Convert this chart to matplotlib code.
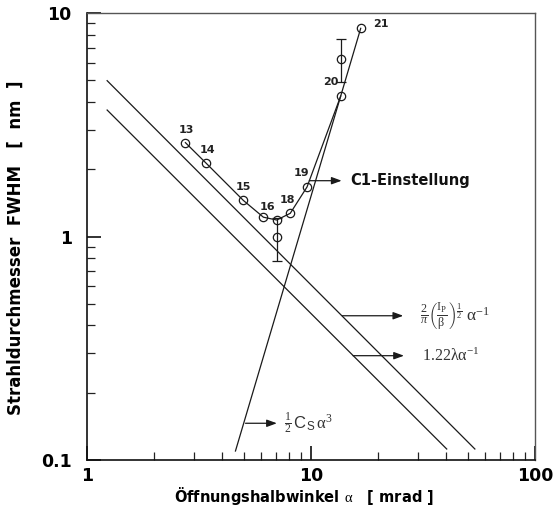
import matplotlib
matplotlib.use("Agg")
import matplotlib.pyplot as plt
from matplotlib.ticker import LogLocator, NullFormatter, FixedLocator, FixedFormatter

plt.rcParams["font.family"] = ["DejaVu Sans"]
plt.rcParams["mathtext.fontset"] = "custom"
plt.rcParams["mathtext.rm"] = "Liberation Serif"
plt.rcParams["mathtext.it"] = "Liberation Serif:italic"
plt.rcParams["mathtext.bf"] = "Liberation Serif:bold"
plt.rcParams["mathtext.sf"] = "Liberation Sans"

# Measured beam diameters along the aperture series (labels 13..21)
point_ids = ["13", "14", "15", "16", "", "18", "19", "20", "21"]
alpha_meas = [2.75, 3.40, 4.99, 6.13, 7.03, 8.08, 9.60, 13.57, 16.67]
fwhm_meas = [2.63, 2.13, 1.45, 1.22, 1.185, 1.27, 1.666, 4.25, 8.54]

# Repeated measurements with scatter
alpha_err = [7.03, 13.57]
fwhm_err = [0.992, 6.24]
fwhm_err_low = [0.779, 4.90]
fwhm_err_high = [1.21, 7.67]

# Theoretical contributions (end points of straight lines in log-log)
alpha_beam = [1.23, 53.9]
d_beam = [4.98, 0.112]
alpha_diff = [1.23, 40.35]
d_diff = [3.68, 0.112]
alpha_cs = [4.60, 13.57]
d_cs = [0.1097, 4.25]

fig = plt.figure(figsize=(5.56, 5.08), dpi=100)
ax = fig.add_axes([87 / 556, 1 - 460 / 508, 448 / 556, 447 / 508])
ax.set_xscale("log")
ax.set_yscale("log")
ax.set_xlim(1, 100)
ax.set_ylim(0.1, 10)

lc = "#1a1a1a"
ax.plot(alpha_beam, d_beam, color=lc, lw=0.9)
ax.plot(alpha_diff, d_diff, color=lc, lw=0.9)
ax.plot(alpha_cs, d_cs, color=lc, lw=0.9)

ax.plot(alpha_meas, fwhm_meas, color=lc, lw=0.9, marker="o", ms=6.0,
        mfc="none", mec=lc, mew=0.9)

yerr = [[c - lo for c, lo in zip(fwhm_err, fwhm_err_low)],
        [hi - c for c, hi in zip(fwhm_err, fwhm_err_high)]]
ax.errorbar(alpha_err, fwhm_err, yerr=yerr, fmt="o", ms=6.0, mfc="none",
            mec=lc, mew=0.9, ecolor=lc, elinewidth=0.9, capsize=3.5,
            capthick=0.9)

# Point numbers
offsets = {"13": (1, 13), "14": (1, 13), "15": (0, 13), "16": (4, 10),
           "18": (-3, 13), "19": (-6, 14), "20": (-10, 14), "21": (20, 4)}
for name, a, d in zip(point_ids, alpha_meas, fwhm_meas):
    if not name:
        continue
    ax.annotate(name, (a, d), xytext=offsets[name], textcoords="offset pixels",
                ha="center", va="center", fontsize=8, fontweight="bold",
                color="#222222")

arrow = dict(arrowstyle="-|>,head_length=0.6,head_width=0.22", color=lc,
             lw=0.9, shrinkA=0, shrinkB=0)
tc = "#333333"

ax.annotate("", xy=(13.7, 1.777), xytext=(9.83, 1.777), arrowprops=arrow)
ax.text(14.9, 1.777, "C1-Einstellung", ha="left", va="center", fontsize=10.5,
        fontweight="bold", color="#111111")

ax.annotate("", xy=(25.8, 0.442), xytext=(13.8, 0.442), arrowprops=arrow)
ax.text(30.7, 0.440,
        r"$\frac{2}{\pi}\left(\frac{\mathrm{I}_{\mathrm{P}}}{\mathrm{\beta}}\right)^{\frac{1}{2}}\;\mathrm{\alpha}^{-1}$",
        ha="left", va="center", fontsize=12.5, color=tc)

ax.annotate("", xy=(26.0, 0.2929), xytext=(15.4, 0.2929), arrowprops=arrow)
ax.text(31.2, 0.2929, r"$\mathrm{1.22\lambda\alpha}^{-1}$", ha="left",
        va="center", fontsize=11.5, color=tc)

ax.annotate("", xy=(7.04, 0.146), xytext=(5.10, 0.146), arrowprops=arrow)
ax.text(7.57, 0.146, r"$\frac{1}{2}\,\mathsf{C}_{\mathsf{S}}\,\mathrm{\alpha}^{3}$",
        ha="left", va="center", fontsize=12, color=tc)

# Axes styling
for side in ("left", "bottom"):
    ax.spines[side].set_linewidth(1.2)
    ax.spines[side].set_color("#111111")
for side in ("top", "right"):
    ax.spines[side].set_linewidth(1.0)
    ax.spines[side].set_color("#555555")

ax.xaxis.set_major_locator(FixedLocator([1, 10, 100]))
ax.xaxis.set_major_formatter(FixedFormatter(["1", "10", "100"]))
ax.yaxis.set_major_locator(FixedLocator([0.1, 1, 10]))
ax.yaxis.set_major_formatter(FixedFormatter(["0.1", "1", "10"]))
ax.xaxis.set_minor_locator(LogLocator(base=10, subs=range(2, 10)))
ax.yaxis.set_minor_locator(LogLocator(base=10, subs=range(2, 10)))
ax.xaxis.set_minor_formatter(NullFormatter())
ax.yaxis.set_minor_formatter(NullFormatter())
ax.tick_params(which="both", direction="in", top=False, right=False,
               color="#222222")
ax.tick_params(which="major", length=10, width=1.3, labelsize=12.5)
ax.tick_params(axis="x", which="major", pad=5)
ax.tick_params(axis="y", which="major", pad=11)
ax.tick_params(which="minor", length=6, width=0.9)
for lab in ax.get_xticklabels() + ax.get_yticklabels():
    lab.set_fontweight("bold")

ax.set_xlabel(r"Öffnungshalbwinkel $\mathrm{\alpha}$   [ mrad ]", fontsize=10.5,
              fontweight="bold")
ax.xaxis.set_label_coords(0.484, -0.057)
ax.set_ylabel("Strahldurchmesser  FWHM   [  nm  ]", fontsize=12,
              fontweight="bold")
ax.yaxis.set_label_coords(-0.14, 0.474)

fig.savefig("out.png", dpi=100)
